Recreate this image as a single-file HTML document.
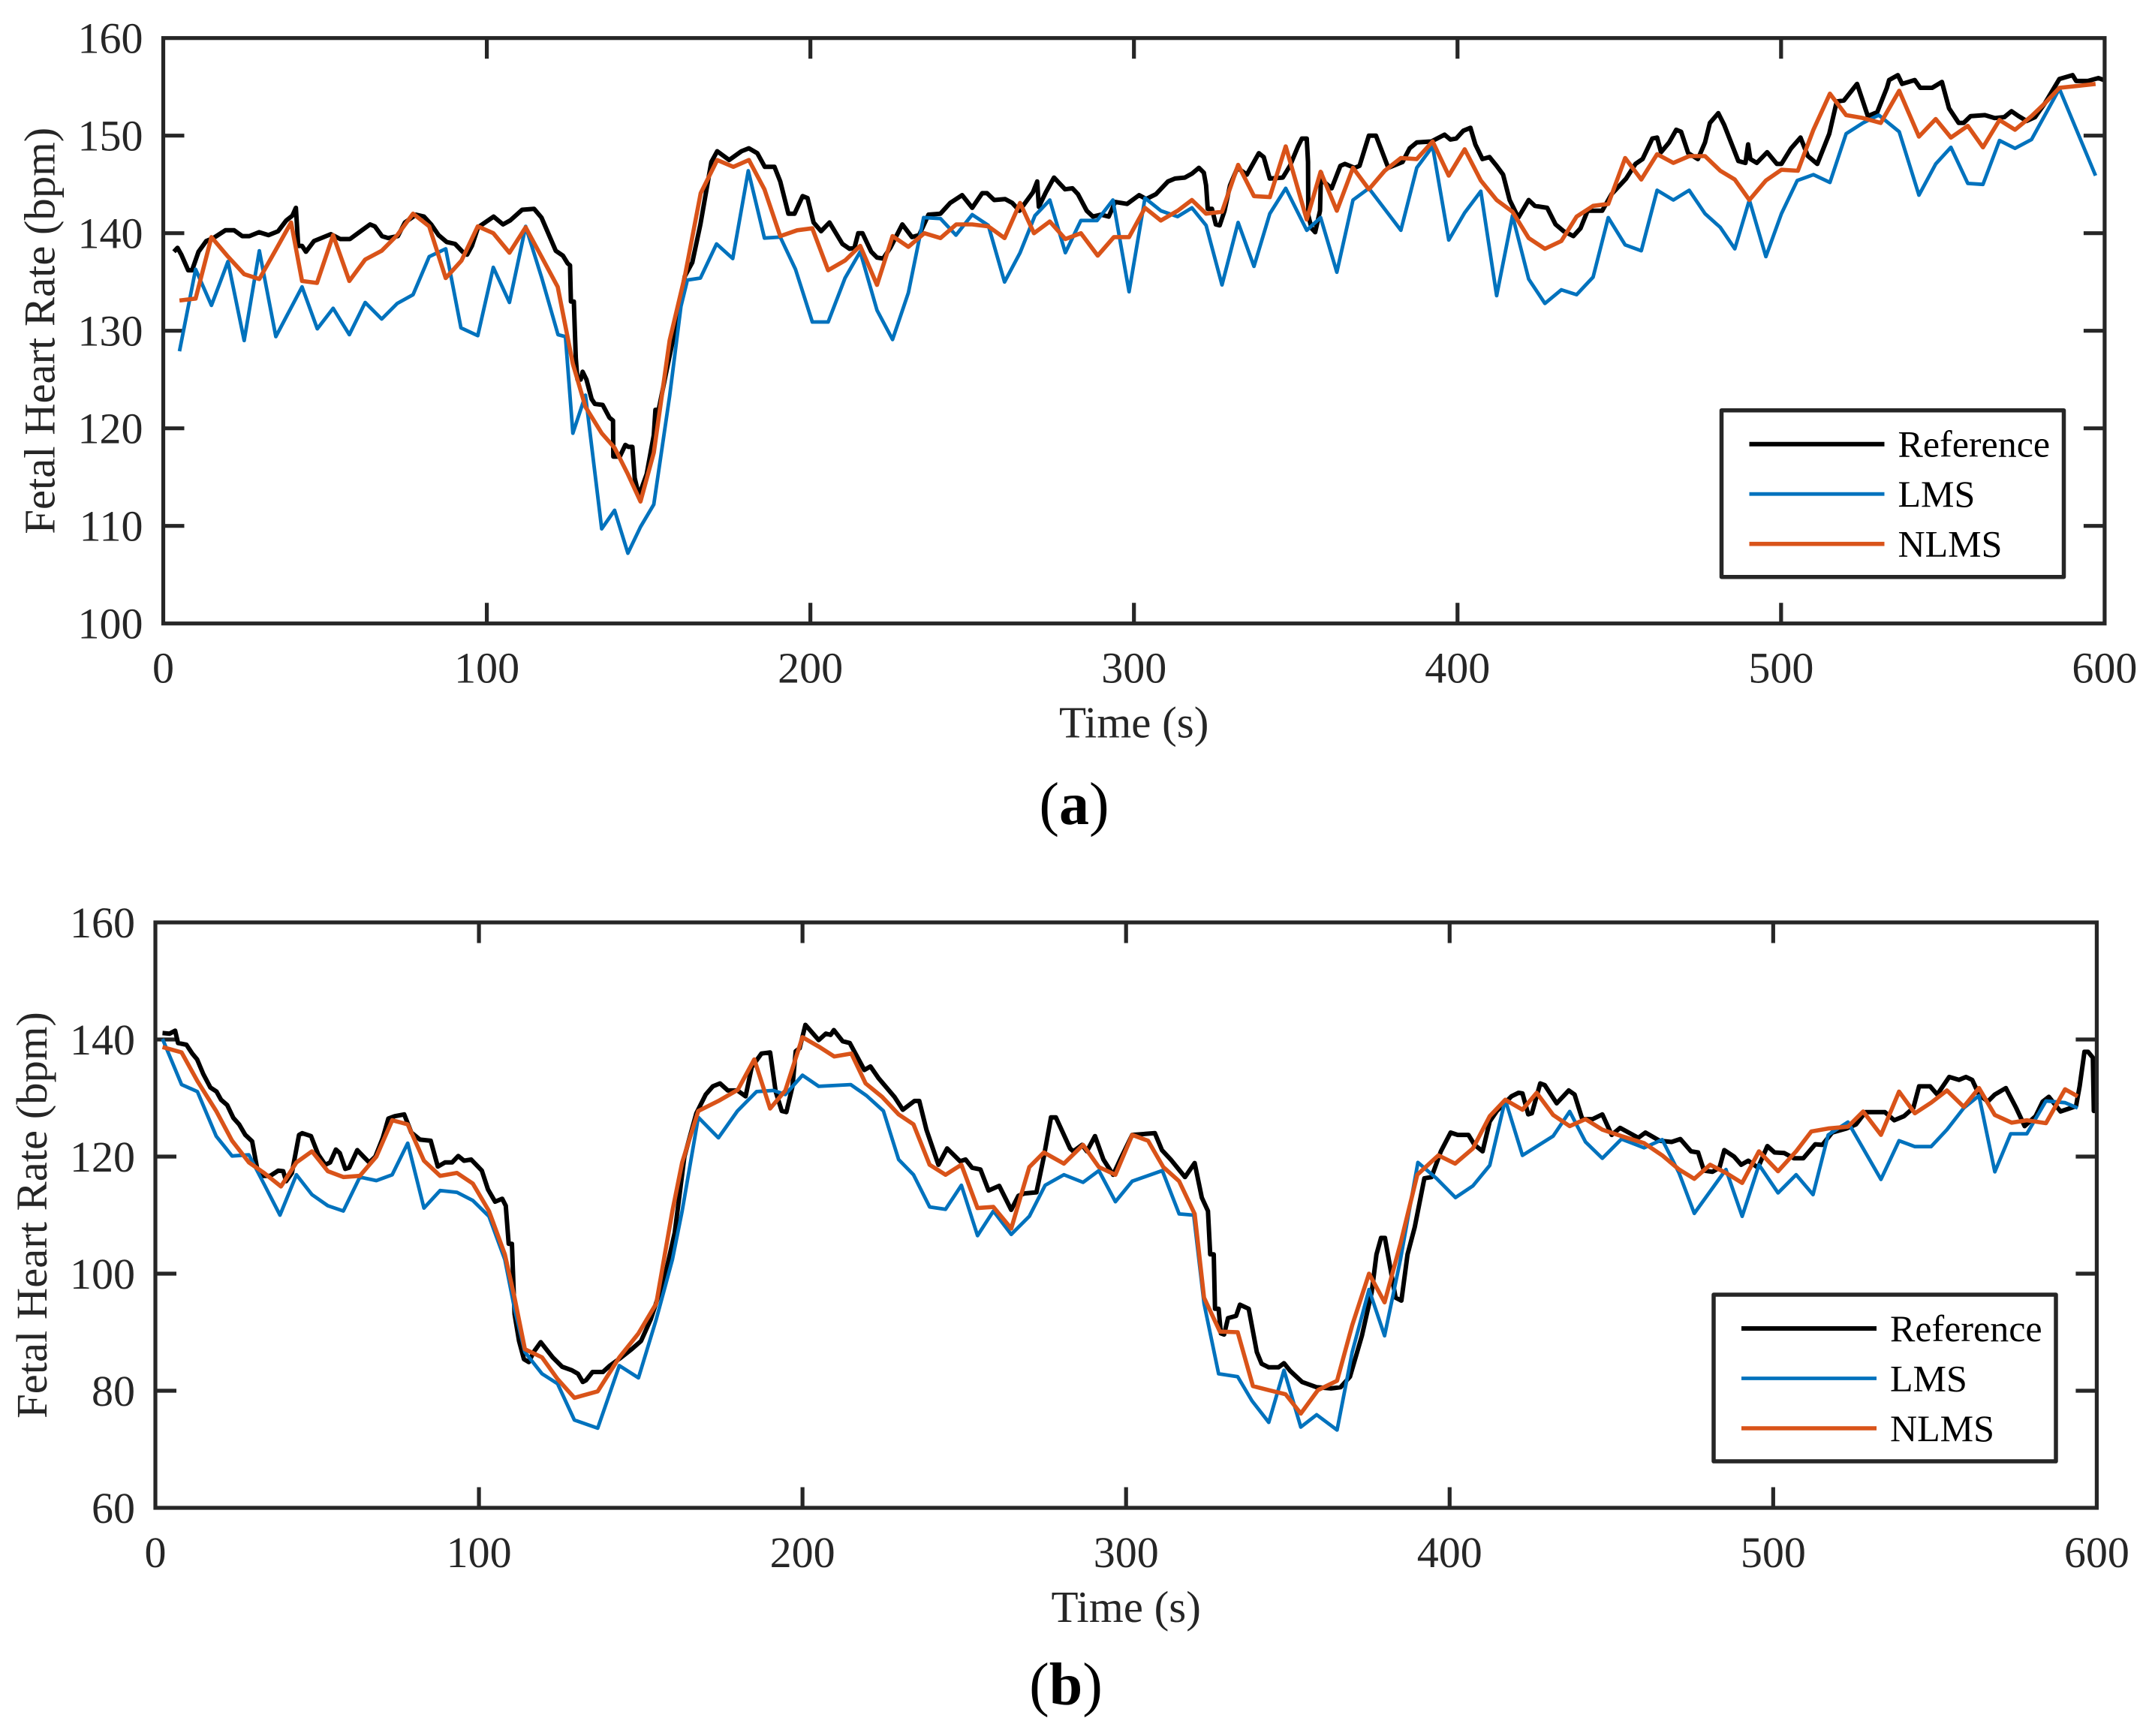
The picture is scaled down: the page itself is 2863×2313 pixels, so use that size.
<!DOCTYPE html>
<html>
<head>
<meta charset="utf-8">
<title>Fetal Heart Rate</title>
<style>
html,body{margin:0;padding:0;background:#fff;}
svg{display:block;}
text{font-family:"Liberation Serif",serif;}
</style>
</head>
<body>
<svg id="figure" xmlns="http://www.w3.org/2000/svg" width="2863" height="2313" viewBox="0 0 2863 2313">
<rect x="0" y="0" width="2863" height="2313" fill="#ffffff"/>
</svg>
<script>
const xTicks = [0,100,200,300,400,500,600];
const aYTicks = [100,110,120,130,140,150,160];
const bYTicks = [60,80,100,120,140,160];
const legendLabels = ['Reference','LMS','NLMS'];

const aRef = [[3.3,138.1],[4.4,138.5],[5.6,137.8],[7.7,136.2],[8.9,136.2],[10.9,138.1],[13.3,139.2],[15.5,139.5],[19.2,140.3],[21.9,140.3],[24.4,139.7],[26.6,139.7],[29.6,140.1],[32.5,139.8],[35.5,140.2],[38,141.3],[39.9,141.8],[41,142.6],[41.7,138.7],[42.9,138.7],[44.1,138.1],[46.6,139.2],[51.8,139.9],[54.7,139.4],[57.7,139.4],[61.4,140.3],[63.9,140.9],[65.4,140.7],[67.6,139.7],[69.5,139.5],[72.5,139.7],[74.7,141.1],[78.1,141.9],[80.6,141.7],[82.8,140.9],[85.1,139.8],[87.6,139.1],[90.2,138.9],[92.5,138.1],[93.9,137.8],[95.4,138.7],[97.3,140.6],[102.1,141.7],[105,140.9],[107.2,141.3],[110.9,142.4],[114.6,142.5],[116.9,141.6],[121.3,138.2],[123.5,137.7],[125,136.9],[125.7,136.7],[126,133],[126.9,133],[127.5,127.2],[128,125],[129,125],[129.6,125.8],[130.8,125],[132.4,123],[133.4,122.5],[135.8,122.4],[137.9,121.1],[139,120.8],[139.1,117.1],[141.1,117.1],[142.8,118.3],[143.8,118.1],[145,118.1],[145.7,114.9],[147,113.1],[149.4,115.3],[151.6,119.3],[152.1,121.9],[153.1,121.9],[155.3,125.5],[157.5,129],[161.2,135.6],[163.5,137],[166,140.9],[167.9,144.5],[169.4,147.3],[171.2,148.4],[174.9,147.5],[178.7,148.4],[181,148.7],[183.6,148.2],[185.9,146.8],[188.9,146.8],[190.7,145.3],[193.2,142],[195.1,142],[197.6,143.8],[199.1,143.6],[201,141.1],[203.3,140.2],[205.9,141.1],[209.9,138.9],[212.1,138.4],[213.6,138.5],[214.8,140],[216.1,140],[218.8,138.1],[220.6,137.5],[222.5,137.4],[224.7,138.5],[228.4,140.9],[231.4,139.6],[233.6,139.8],[236.5,141.9],[240.2,142],[243.2,143.1],[246.9,143.9],[250,142.6],[253.1,144.1],[254.6,144.1],[256.8,143.4],[260.2,143.5],[262.4,143.1],[264.6,142.3],[268.8,144.2],[270.1,145.3],[270.6,142.7],[272.8,144.2],[275.3,145.7],[278.7,144.5],[281,144.6],[282.7,144],[285.4,142.3],[287.3,141.7],[289.8,141.9],[292.2,141.7],[294.2,143.2],[297.9,143],[301.6,143.9],[303.8,143.5],[306.8,144],[310.5,145.3],[312.7,145.6],[315.7,145.7],[317.9,146.1],[320.1,146.7],[321.6,146.2],[322.3,144.9],[322.8,142.5],[324.1,142.5],[325.3,140.9],[326.5,140.8],[328,142.3],[329.7,144.9],[332,146.7],[334.9,146],[338.6,148.2],[340.1,147.8],[342,145.6],[346,145.7],[348.2,146.9],[350.7,148.9],[351.9,149.7],[353.4,149.7],[353.8,147.3],[353.9,141.8],[354.9,140.5],[356,140.1],[357.5,142.3],[357.8,146.2],[358.6,145.3],[361.1,144.6],[363.8,146.9],[365.2,147.1],[368.2,146.7],[369.7,146.9],[372.6,150],[374.8,150],[376.3,148.7],[378.6,146.7],[383,147.3],[385.2,148.7],[387.4,149.3],[391.9,149.4],[396,150.1],[397.8,149.6],[399.6,149.7],[401.8,150.5],[404,150.8],[405.5,149.1],[407.7,147.6],[409.9,147.8],[412.1,146.9],[414.1,146],[416.1,143.4],[418.8,141.6],[422,143.4],[423.9,142.8],[427.7,142.6],[430.3,140.9],[432.8,140.2],[435.8,139.7],[438,140.5],[440.2,142.3],[442.5,142.3],[444.7,142.3],[447.6,144],[452.1,145.6],[455,147.1],[457.2,147.6],[460.2,149.7],[461.7,149.8],[462.9,148.3],[465.4,149.3],[467.6,150.6],[469.1,150.4],[471.3,148.2],[474.3,147.6],[476.5,149.3],[478,151.3],[480.6,152.3],[482.4,151.1],[486.8,147.4],[489,147.2],[489.8,149.1],[490.5,147.6],[492.5,147.2],[495.7,148.3],[498.7,147.1],[500.1,147.1],[503.1,148.7],[506,149.8],[508.3,147.9],[511.2,147.1],[514.9,150.2],[517.2,153.5],[519.4,153.6],[523.5,155.3],[526.8,152],[529.7,152.4],[532.7,154.9],[533.4,155.7],[536.1,156.2],[537.4,155.3],[541.3,155.7],[543,154.9],[546.7,154.9],[549.7,155.5],[551.9,152.8],[554.9,151.3],[556.4,151.3],[558.6,152],[563,152.1],[566,151.8],[569,151.9],[571.2,152.5],[573.4,152],[575.9,151.5],[578.5,151.9],[581.5,153.3],[586,155.8],[590.1,156.2],[591.2,155.6],[594.8,155.6],[598.1,155.9],[599.7,155.7]];

const aLms = [[5,127.9],[10,136.3],[14.9,132.6],[20,137.1],[25,129],[29.7,138.2],[34.8,129.4],[42.9,134.5],[47.6,130.2],[52.5,132.3],[57.5,129.6],[62.4,132.9],[67.5,131.2],[72.3,132.8],[77.2,133.7],[82.2,137.6],[87.3,138.4],[92,130.3],[97.2,129.5],[102,136.5],[107,132.9],[112,140.7],[117,135.4],[122,129.6],[124.3,129.4],[126.6,119.5],[130.5,123.4],[135.5,109.7],[139.5,111.6],[143.6,107.2],[147.5,109.9],[151.6,112.2],[156.5,123.3],[160,132.5],[162,135.2],[166,135.4],[171,138.9],[176,137.4],[180.8,146.4],[185.8,139.5],[190.7,139.6],[195.4,136.3],[200.6,130.9],[205.5,130.9],[210.7,135.4],[215.4,138.1],[220.6,132.1],[225.4,129.1],[230.3,133.9],[235,141.6],[240.2,141.5],[245,139.8],[250,141.9],[255,140.8],[260,135],[264.8,138],[269.4,141.8],[274,143.4],[278.8,138],[283.6,141.3],[288.6,141.3],[293.5,143.4],[298.5,134],[303.4,143.6],[308.3,142.3],[313.5,141.7],[317.9,142.6],[322.3,140.8],[327.2,134.7],[332.2,141.1],[337.1,136.6],[342,142],[346.9,144.6],[353.4,140.3],[357.7,141.6],[362.7,136],[367.7,143.4],[372.6,144.6],[382.5,140.3],[387.4,146.7],[392.3,148.9],[397.3,139.3],[402.2,142.1],[407.2,144.3],[412.1,133.6],[417,141.8],[422,135.3],[427,132.8],[432.1,134.2],[436.8,133.7],[441.9,135.5],[446.6,141.6],[451.8,138.8],[456.8,138.2],[461.7,144.4],[466.7,143.4],[471.6,144.4],[476.5,142],[481.2,140.6],[485.7,138.4],[490.2,143.4],[495.3,137.6],[500.1,142],[505,145.4],[510,146],[515.1,145.2],[520.1,150.2],[525.3,151.3],[530.2,152.1],[536.5,150.4],[542.6,143.9],[547.8,147.1],[552.5,148.8],[557.7,145.1],[562.4,145],[567.5,149.5],[572.3,148.7],[577.4,149.6],[586,154.8],[597.2,145.9]];

const aNlms = [[5,133.1],[10,133.3],[14.9,139.6],[20,137.6],[25,135.8],[29.7,135.3],[34.8,138.3],[39.5,141.1],[42.9,135.1],[47.5,134.9],[52.5,139.8],[57.5,135.1],[62.4,137.3],[67.5,138.2],[72.3,139.8],[77.2,142],[82.2,140.7],[87.3,135.4],[92.2,137.2],[97.2,140.7],[102,140],[107,138],[112,140.6],[116.9,137.6],[121.9,134.5],[126.6,126.6],[130.5,122.2],[135.5,119.5],[139.5,118],[143.6,115.3],[147.5,112.5],[151.6,117.5],[156.5,129],[161.2,135.6],[166.1,144.1],[171.2,147.5],[176.2,146.8],[181,147.5],[185.8,144.5],[190.7,139.7],[195.9,140.3],[200.6,140.5],[205.5,136.2],[210.7,137.2],[215.4,138.7],[220.6,134.7],[225.4,139.7],[230.3,138.6],[235.2,140],[240.2,139.5],[245.1,140.9],[250,140.9],[255,140.7],[260,139.5],[264.8,143.1],[269.1,140],[274,141.2],[278.8,139.4],[283.6,140],[288.8,137.7],[293.8,139.6],[298.5,139.6],[303.4,142.6],[308.3,141.3],[313.5,142.3],[317.9,143.4],[322.3,142],[327.2,142.2],[332.2,147],[337.1,143.8],[342,143.7],[346.9,148.9],[353.4,141.4],[357.7,146.3],[362.7,142.3],[367.7,146.7],[372.6,144.5],[377.5,146.4],[382.5,147.7],[387.4,147.6],[392.3,149.4],[397.3,145.9],[402.2,148.6],[407.2,145.4],[412.1,143.4],[417,142.2],[422,139.5],[427,138.4],[432.1,139.2],[436.8,141.7],[441.9,142.8],[446.6,143],[451.8,147.7],[456.8,145.5],[461.7,148.1],[466.7,147.2],[471.6,147.9],[476.5,147.9],[481.2,146.4],[485.7,145.5],[490.2,143.4],[495.3,145.4],[500.1,146.5],[505.2,146.4],[510,150.6],[515.1,154.3],[520.1,152.1],[525.3,151.8],[530.8,151.3],[536.5,154.6],[542.6,149.9],[547.8,151.7],[552.5,149.8],[557.7,151],[562.4,148.8],[567.5,151.6],[572.3,150.6],[577.4,152],[581.5,153.3],[586,154.9],[591.9,155.1],[597.2,155.3]];

const bRef = [[2.2,141.1],[4.4,141],[6.1,141.5],[7,139.4],[9.6,139.1],[11.4,137.6],[12.9,136.6],[14.8,134.1],[17,131.8],[18.9,131.1],[20.3,129.7],[22.2,128.8],[24.1,126.6],[25.9,125.5],[27.8,123.7],[29.9,122.6],[31.4,118.1],[32.5,116.7],[35.5,116.7],[38,117.6],[39.5,117.5],[40.4,115.8],[42.2,117.2],[44.4,123.7],[45.4,124],[48.1,123.5],[50.3,120.4],[52.5,118.6],[54,119],[55.8,121.2],[57,120.6],[58.7,117.9],[59.9,118.1],[62.4,121.1],[64.3,120],[66.1,119],[68,120],[70.3,123.2],[72,126.5],[74,126.9],[76.9,127.2],[79.1,124.1],[81.8,122.9],[85.1,122.7],[87.3,118.3],[89.5,119],[91.7,119],[93.6,120.1],[95.4,119.3],[97.6,119.5],[100.9,117.6],[102.8,114.4],[105,112.3],[107.2,112.8],[108.3,111.6],[109.2,105.1],[110.2,105.1],[111,93.1],[112.4,88.5],[113.9,85.4],[115.4,84.9],[116.9,86.6],[119.1,88.3],[122.8,85.7],[125.7,84.1],[128.7,83.5],[130.6,82.9],[132.1,81.5],[133.1,81.8],[135.1,83.2],[138.3,83.2],[140.5,84.3],[143.5,85.5],[147.2,87.1],[150.1,88.5],[153.1,92.2],[157.5,99.6],[160.5,107],[163.5,120],[167.2,127.4],[170.1,130.6],[172.3,132],[174.5,132.5],[176.9,131.3],[179.9,131.3],[182.4,130.3],[184.3,135.3],[187.3,137.6],[190,137.8],[191.7,131.1],[193.6,127.8],[195,127.6],[196.9,132],[197.9,138],[199.1,138.5],[200.9,142.5],[202.8,141.3],[205,139.9],[207.2,141],[208.7,140.8],[209.7,141.6],[212.4,139.7],[214.6,139.4],[219.1,134.8],[221,135.4],[223.5,133.4],[228.4,130.2],[231,128],[234.6,129.5],[236.1,129.5],[238.3,124.6],[242,118.6],[244.7,121.4],[248.7,119.2],[250.4,119.5],[252.4,118.1],[255,117.8],[257.5,114.2],[260.8,115],[264.5,110.9],[266.7,113.3],[268.6,113.7],[272.3,113.9],[274.6,120],[276.8,126.7],[278.3,126.7],[282.7,121.4],[283.7,120.9],[286.4,122],[287.9,120.9],[290.4,123.5],[293,119.5],[296,116.9],[298.2,119.5],[301.9,123.7],[308.9,124],[311.1,121.1],[313.8,119.5],[318.2,116.5],[321.2,118.9],[323.4,113],[325.3,110.7],[326,103.3],[327.1,103.3],[327.5,94],[328.6,94],[329.3,89.8],[330.3,89.6],[331.5,92.4],[334,92.8],[335.2,94.7],[337.9,94],[340.4,86.6],[341.9,84.6],[344.1,84],[347.1,84],[348.8,84.7],[350.7,83.4],[354.4,81.5],[358.9,80.6],[363.3,80.4],[366.3,80.6],[369.2,82.4],[372.9,89.4],[375.9,96.8],[377.4,103.3],[378.8,106.1],[380,106.1],[383.3,95.9],[385.1,95.4],[387,103.3],[389.2,107.9],[392.2,116.3],[394.4,116.5],[397.3,120.9],[400.3,124.1],[402.5,123.7],[405.8,123.7],[407.7,122],[410.2,120.9],[412.4,126],[414.6,127.8],[419.1,130.3],[421.3,130.9],[422.5,130.8],[424.3,127.2],[425.4,127.4],[428,132.5],[429.4,132.2],[433.1,129.1],[436.8,131.3],[438.6,130.6],[441,126.4],[444.2,126.4],[447.2,127.2],[450.1,123.7],[452.7,124.9],[458.3,123.2],[460.5,124.1],[464.9,122.7],[468.6,122.5],[471.3,123],[474.6,120.9],[476.8,120.7],[478.6,117.6],[481.2,117.4],[483.4,118.1],[484.9,121.1],[487.9,120],[490.1,118.6],[492.3,119.3],[495.3,118.1],[498.2,121.8],[500.4,120.7],[503.4,120.6],[506.4,119.7],[509.3,119.7],[513,122.1],[515.2,122],[518.2,124.1],[522.6,124.8],[525.6,125.5],[528.5,127.6],[534.5,127.6],[537.4,126.2],[540.4,126.9],[543.3,128.3],[545.1,132],[548.5,132],[550.7,130.6],[554.4,133.6],[557.4,133.1],[559.6,133.6],[561.5,133.1],[563.6,130.6],[566.3,129.4],[568.5,130.6],[571.9,131.7],[575.1,128.3],[577.7,125.2],[581.1,126.9],[583.3,129.4],[585.2,130.2],[588.8,127.7],[593.6,128.6],[594.7,132],[596.2,137.9],[597.3,137.9],[598.8,136.9],[599.1,127.8],[600,129.2]];

const bLms = [[2.2,140.1],[8.1,132.3],[13,131.1],[18.8,123.5],[23.7,120.1],[28.9,120.3],[33.6,115.3],[38.5,110],[43.6,116.9],[48.4,113.5],[53.3,111.6],[58.1,110.7],[63.2,116.5],[68.3,115.9],[73.2,116.9],[78,122.3],[83,111.2],[88,114.2],[93.2,113.9],[98.1,112.5],[103.1,109.8],[108,102.4],[111,94],[114.2,86.6],[119.5,82.9],[124.3,81.2],[129.5,75],[136.7,73.6],[143.4,84.3],[149.3,82.2],[154.8,92.2],[159.8,102.4],[162.8,110.7],[167.8,126.7],[174,123.2],[179.9,127.8],[185.8,131.1],[191,131.3],[194.7,130.6],[200,133.9],[205,132],[214.9,132.3],[219.8,130.4],[225,127.8],[229.7,119.5],[234.3,116.9],[239.3,111.4],[244.2,111],[249.1,115.1],[254.1,106.5],[259,110.7],[264.5,106.7],[270.1,109.8],[275,115.1],[280.8,116.9],[286.7,115.6],[291.6,117.6],[296.7,112.3],[301.9,115.8],[311.2,117.6],[316.4,110.2],[320.9,110],[324.1,94.9],[328.6,82.9],[334.5,82.4],[338.9,78.3],[344.1,74.6],[348.8,83.5],[354,73.8],[358.9,75.9],[365.2,73.3],[369.9,86.6],[375.1,97.3],[379.9,89.4],[384.8,102.4],[390.2,119],[395.9,116.3],[401.8,113],[407.2,115],[412.4,118.5],[417.2,129.7],[422.5,120.2],[432,123.5],[437.1,127.7],[442,122.5],[447.2,119.7],[453.1,123],[460.1,121.5],[465.7,122.9],[470.9,117.2],[475.6,110.3],[485.4,117.8],[490.4,109.8],[495.6,118.6],[501.5,113.8],[507.1,116.9],[512.3,113.5],[517,123.7],[523.1,125.9],[533.3,116.1],[538.9,122.7],[543.8,121.7],[548.8,121.7],[553.7,124.6],[558.9,128.3],[563.6,130.4],[568.5,117.4],[573.4,123.9],[578.4,123.9],[584.3,129.5],[590.2,129.2],[594.1,128.3]];

const bNlms = [[2.2,138.7],[8.1,137.8],[13,132.9],[18.8,127.8],[23.7,122.7],[28.9,119],[33.6,117.2],[38.8,114.9],[43.6,119],[48.4,120.9],[53.3,117.5],[58.1,116.5],[63.2,116.7],[68.3,120],[73.2,126.2],[78,125.5],[83,119.3],[88,116.7],[93.2,117.2],[98.1,115.4],[103.1,110.7],[108,103.3],[111,95.9],[114.2,87.1],[119.5,85.7],[124.3,82],[129.5,78.8],[136.7,79.9],[143.4,85.7],[149.3,89.8],[154.8,94.9],[159.8,110.7],[162.8,119],[167.8,127.8],[174,129.5],[180,131.4],[185.1,136.6],[190,128.2],[194.7,131.3],[200,140.4],[205,138.8],[209.8,137.1],[215.1,137.6],[219.5,132.5],[224.6,130.2],[229.7,127.2],[234.3,125.5],[239.3,118.6],[244.2,116.9],[249.1,118.6],[254.1,111.2],[259,111.4],[264.5,107.7],[270.1,118.2],[274.6,120.7],[280.8,118.8],[286.7,122],[291.6,118.2],[296.7,116.9],[301.9,123.7],[306.8,122.7],[311.5,118.2],[316.4,115.8],[321.2,110.2],[324.1,95.9],[329,90.1],[334.5,90],[339.2,80.8],[344.1,80.1],[349.3,79.4],[354,76.1],[359.3,80.1],[365.2,81.7],[369.9,91.2],[375.1,100],[379.9,95.1],[384.8,105.1],[390,116.9],[396.5,120.2],[401.7,118.8],[407.2,121.4],[412.4,126.9],[417.2,129.7],[422.5,128],[426.9,130.9],[432,127.1],[437.1,125.2],[442,126.4],[447.2,124.6],[453.1,123.5],[460.1,122.3],[465.7,120.2],[470.9,117.8],[475.6,116.2],[480.5,118.6],[485.4,117.2],[490.4,115.5],[495.6,120.9],[501.5,117.5],[507.1,120.9],[511.8,124.3],[517,124.8],[523.1,125.1],[527.8,127.7],[533.3,123.7],[538.9,131.1],[543.8,127.4],[548.8,129.2],[553.7,131.3],[558.9,128.5],[563.6,131.7],[568.5,127.1],[573.7,125.8],[578.4,126.2],[584.3,125.7],[590.2,131.5],[594.1,130.3]];

const SVGNS = 'http://www.w3.org/2000/svg';
const INK = '#262626';
const svg = document.getElementById('figure');

function el(tag, attrs, parent) {
  const e = document.createElementNS(SVGNS, tag);
  for (const k in attrs) e.setAttribute(k, attrs[k]);
  parent.appendChild(e);
  return e;
}

function drawChart(prefix, left, top, yMin, yMax, yTicks, ref, lms, nlms) {
  const width = 2586.4, height = 780;
  const xs = function (t) { return left + t / 600 * width; };
  const ys = function (v) { return top + (yMax - v) / (yMax - yMin) * height; };
  const bottom = top + height, right = left + width;

  const g = el('g', {}, svg);
  
  

  xTicks.forEach(function (t) {
    const x = xs(t);
    if (t > 0 && t < 600) {
      const tb = el('line', {x1: x, x2: x, y1: bottom, y2: bottom - 27.5, stroke: INK, 'stroke-width': 5.2}, g);
      
      
      const tt = el('line', {x1: x, x2: x, y1: top, y2: top + 27.5, stroke: INK, 'stroke-width': 5.2}, g);
      
      
    }
    const lab = el('text', {x: x, y: bottom + 79, 'text-anchor': 'middle', 'font-size': 58, fill: INK}, g);
    
    
    lab.textContent = t;
  });

  yTicks.forEach(function (v) {
    const y = ys(v);
    if (v > yMin && v < yMax) {
      const tl = el('line', {x1: left, x2: left + 28, y1: y, y2: y, stroke: INK, 'stroke-width': 5.2}, g);
      
      
      const tr = el('line', {x1: right, x2: right - 28, y1: y, y2: y, stroke: INK, 'stroke-width': 5.2}, g);
      
      
    }
    const lab = el('text', {x: left - 27, y: y + 20, 'text-anchor': 'end', 'font-size': 58, fill: INK}, g);
    
    
    lab.textContent = v;
  });

  const pathOf = function (pts) {
    return pts.map(function (p, i) { return (i ? 'L' : 'M') + xs(p[0]).toFixed(1) + ' ' + ys(p[1]).toFixed(1); }).join('');
  };

  const refLine = el('path', {d: pathOf(ref), fill: 'none', stroke: '#000000', 'stroke-width': 6, 'stroke-linejoin': 'round'}, g);
  
  
  const lmsLine = el('path', {d: pathOf(lms), fill: 'none', stroke: '#0072BD', 'stroke-width': 4.8, 'stroke-linejoin': 'round'}, g);
  
  
  const nlmsLine = el('path', {d: pathOf(nlms), fill: 'none', stroke: '#D95319', 'stroke-width': 5.6, 'stroke-linejoin': 'round'}, g);
  
  

  const box = el('rect', {x: left, y: top, width: width, height: height, fill: 'none', stroke: INK, 'stroke-width': 5.2}, g);
  
  

  const yTitle = el('text', {transform: 'translate(' + (left - 145) + ' ' + (top + height / 2) + ') rotate(-90)', 'text-anchor': 'middle', 'font-size': 58.6, fill: INK}, g);
  
  
  yTitle.textContent = 'Fetal Heart Rate (bpm)';

  const xTitle = el('text', {x: left + width / 2, y: bottom + 152, 'text-anchor': 'middle', 'font-size': 59, fill: INK}, g);
  
  
  xTitle.textContent = 'Time (s)';

  const lg = el('g', {}, g);
  
  
  const lx = left + 2076, ly = top + 496;
  const lbox = el('rect', {x: lx, y: ly, width: 456, height: 222, fill: '#ffffff', stroke: INK, 'stroke-width': 5.5, 'stroke-linejoin': 'round'}, lg);
  
  
  const colors = ['#000000', '#0072BD', '#D95319'];
  const widths = [6, 4.8, 5.6];
  legendLabels.forEach(function (name, i) {
    const cy = ly + 45 + i * 66.5;
    const sw = el('line', {x1: lx + 37, x2: lx + 217, y1: cy, y2: cy, stroke: colors[i], 'stroke-width': widths[i]}, lg);
    
    
    const tx = el('text', {x: lx + 235, y: cy + 17, 'font-size': 50, fill: '#000000'}, lg);
    
    
    tx.textContent = name;
  });
}

function drawCaption(name, letter, cx, baseline) {
  const t = el('text', {x: cx, y: baseline, 'text-anchor': 'middle', 'font-size': 80, fill: '#000000'}, svg);
  
  
  el('tspan', {}, t).textContent = '(';
  el('tspan', {'font-weight': 'bold'}, t).textContent = letter;
  el('tspan', {}, t).textContent = ')';
}

drawChart('panel-a', 217.5, 50.7, 100, 160, aYTicks, aRef, aLms, aNlms);
drawChart('panel-b', 207, 1229, 60, 160, bYTicks, bRef, bLms, bNlms);
drawCaption('panel-a-caption', 'a', 1431, 1098);
drawCaption('panel-b-caption', 'b', 1420, 2271);
</script>
</body>
</html>
